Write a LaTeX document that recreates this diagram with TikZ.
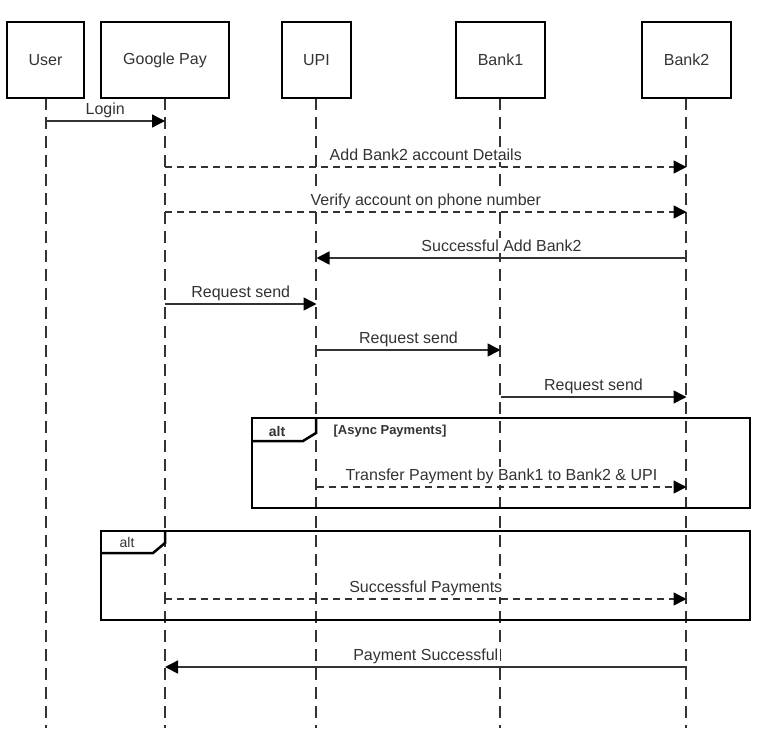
\documentclass[tikz,border=0pt]{standalone}
\usepackage{fontspec}
\setmainfont{Liberation Sans}
\usetikzlibrary{arrows.meta}
\definecolor{ink}{HTML}{333333}
\tikzset{
  actorbox/.style={draw=black, line width=2pt, fill=white, minimum width=#1, minimum height=76pt, inner sep=0pt, font=\fontsize{16}{19}\selectfont, text=ink},
  lifeline/.style={draw=ink, line width=1.5pt, dash pattern=on 12pt off 7pt},
  syncmsg/.style={draw=ink, line width=1.5pt, -{Triangle[length=13pt,width=13pt,color=black]}},
  asyncmsg/.style={syncmsg, dash pattern=on 7pt off 5pt},
  msglabel/.style={anchor=base, yshift=7pt, font=\fontsize{16}{19}\selectfont, text=ink, fill=white, inner sep=1.5pt},
  framebox/.style={draw=black, line width=2.5pt},
  framelabel/.style={font=\bfseries\fontsize{14}{16}\selectfont, text=ink, inner sep=0pt},
  guardlabel/.style={font=\bfseries\fontsize{13}{15}\selectfont, text=ink, inner sep=0pt},
}
\begin{document}
\begin{tikzpicture}[x=1pt, y=1pt]
\useasboundingbox (0,0) rectangle (767,-728);
% lifelines
\foreach \lx in {46,165,316,500,686}{
  \draw[lifeline] (\lx,-98) -- (\lx,-728);
}
% actors
\node[actorbox=77pt]  (user)  at (45.5,-60)  {User};
\node[actorbox=128pt] (gp)    at (165,-60)   {Google Pay};
\node[actorbox=69pt]  (upi)   at (316.5,-60) {UPI};
\node[actorbox=89pt]  (bank1) at (500.5,-60) {Bank1};
\node[actorbox=89pt]  (bank2) at (686.5,-60) {Bank2};
% frames
\draw[framebox] (252,-418) rectangle (750,-508);
\draw[framebox] (252,-441) -- (303,-441) -- (316,-433) -- (316,-418);
\node[framelabel] (alt1) at (277,-431) {alt};
\node[guardlabel] (guard1) at (390,-431) {[Async Payments]};
\draw[framebox] (101,-531) rectangle (750,-620);
\draw[framebox] (101,-553) -- (153,-553) -- (165,-543) -- (165,-531);
\node[framelabel, font=\fontsize{14}{16}\selectfont] (alt2) at (127,-542) {alt};
% messages
\draw[syncmsg]  (user |- 0,-121) -- node[msglabel] (m1) {Login} (gp |- 0,-121);
\draw[asyncmsg] (gp |- 0,-167) -- node[msglabel] (m2) {Add Bank2 account Details} (bank2 |- 0,-167);
\draw[asyncmsg] (gp |- 0,-212) -- node[msglabel] (m3) {Verify account on phone number} (bank2 |- 0,-212);
\draw[syncmsg]  (bank2 |- 0,-258) -- node[msglabel] (m4) {Successful Add Bank2} (upi |- 0,-258);
\draw[syncmsg]  (gp |- 0,-304) -- node[msglabel] (m5) {Request send} (upi |- 0,-304);
\draw[syncmsg]  (upi |- 0,-350) -- node[msglabel] (m6) {Request send} (bank1 |- 0,-350);
\draw[syncmsg]  (bank1 |- 0,-397) -- node[msglabel] (m7) {Request send} (bank2 |- 0,-397);
\draw[asyncmsg] (upi |- 0,-487) -- node[msglabel] (m8) {Transfer Payment by Bank1 to Bank2 \& UPI} (bank2 |- 0,-487);
\draw[asyncmsg] (gp |- 0,-599) -- node[msglabel] (m9) {Successful Payments} (bank2 |- 0,-599);
\draw[syncmsg]  (bank2 |- 0,-667) -- node[msglabel] (m10) {Payment Successful} (gp |- 0,-667);
\end{tikzpicture}
\end{document}
